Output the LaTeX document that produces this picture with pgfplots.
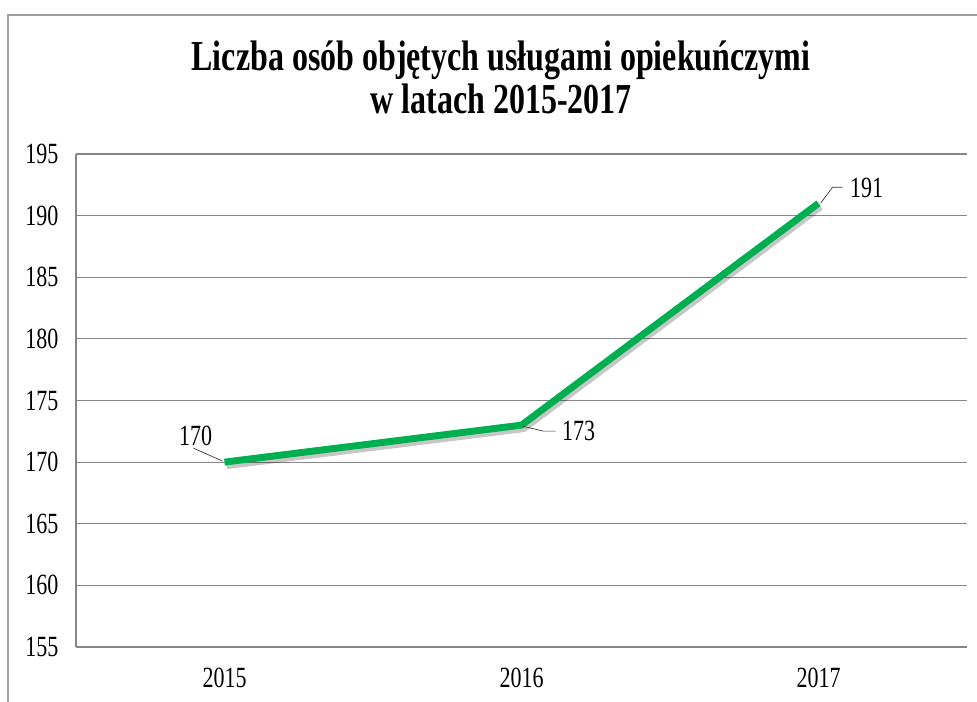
\documentclass[border=0pt]{standalone}
\usepackage{fontspec}
\setmainfont{Liberation Serif}[FakeStretch=0.75]
\usepackage{pgfplots}
\pgfplotsset{compat=1.18}
\definecolor{linegreen}{RGB}{0,176,80}
\definecolor{gridgray}{RGB}{134,134,134}
\def\u{0.75pt}
\begin{document}
\begin{tikzpicture}
\useasboundingbox (0,0) rectangle (977*\u,702*\u);
% chart area border (cut by the page on the right and bottom)
\draw[gridgray!80, line width=0.9pt] (8*\u,-10*\u) -- (8*\u,687*\u) -- (990*\u,687*\u);
% title
\node[anchor=base, font=\bfseries\fontsize{32}{36}\selectfont] at (501*\u,631*\u) {Liczba osób objętych usługami opiekuńczymi};
\node[anchor=base, font=\bfseries\fontsize{32}{36}\selectfont] at (501*\u,588*\u) {w latach 2015-2017};
\begin{axis}[
    at={(76*\u,55*\u)}, anchor=south west,
    scale only axis,
    width=891*\u, height=493*\u,
    xmin=-0.5, xmax=2.5,
    ymin=155, ymax=195,
    xtick={0,1,2},
    xticklabels={2015,2016,2017},
    ytick={155,160,...,195},
    axis x line*=bottom,
    axis y line*=left,
    axis line style={gridgray, line width=0.8pt, -},
    ymajorgrids=true,
    grid style={gridgray, line width=0.8pt},
    major tick length=0pt,
    tick label style={font=\fontsize{22}{24}\selectfont, /pgf/number format/assume math mode=true},
    yticklabel style={xshift=-13*\u},
    xticklabel style={yshift=-16*\u},
    clip=false,
]
\addplot[black, opacity=0.22, line width=5.5pt, line join=round, shift={(1.5pt,-2.5pt)}]
  coordinates {(0,170) (1,173) (2,191)};
\addplot[linegreen, line width=5.2pt, line join=round]
  coordinates {(0,170) (1,173) (2,191)};
% data labels with leader lines
\draw[black!80, line width=0.5pt] ([shift={(-2*\u,1*\u)}]axis cs:0,170) -- ([shift={(-31*\u,14*\u)}]axis cs:0,170);
\node[font=\fontsize{22}{24}\selectfont] at ([shift={(-29*\u,26*\u)}]axis cs:0,170) {170};
\draw[black!80, line width=0.5pt] ([shift={(1*\u,-1*\u)}]axis cs:1,173) -- ([shift={(22*\u,-6*\u)}]axis cs:1,173) -- ([shift={(34*\u,-6*\u)}]axis cs:1,173);
\node[font=\fontsize{22}{24}\selectfont, anchor=west] at ([shift={(36*\u,-6*\u)}]axis cs:1,173) {173};
\draw[black!80, line width=0.5pt] ([shift={(2*\u,0*\u)}]axis cs:2,191) -- ([shift={(14*\u,16*\u)}]axis cs:2,191) -- ([shift={(24*\u,16*\u)}]axis cs:2,191);
\node[font=\fontsize{22}{24}\selectfont, anchor=west] at ([shift={(27*\u,15*\u)}]axis cs:2,191) {191};
\end{axis}
\end{tikzpicture}
\end{document}
